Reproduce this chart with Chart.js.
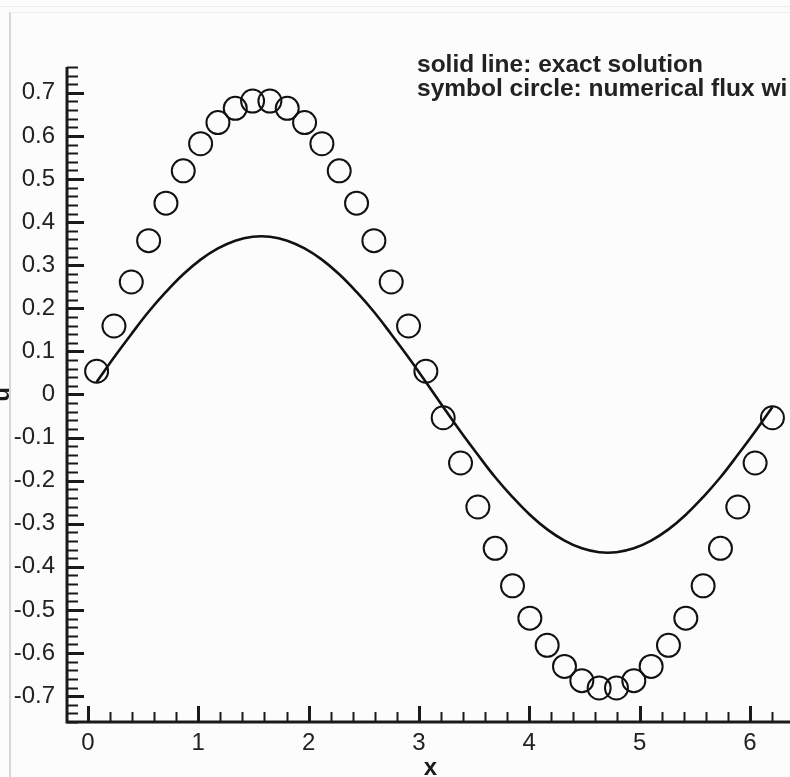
<!DOCTYPE html>
<html>
<head>
<meta charset="utf-8">
<script src="https://cdn.jsdelivr.net/npm/chart.js@4/dist/chart.umd.min.js"></script>
<style>
  html, body { margin: 0; padding: 0; background: #fcfcfc; overflow: hidden; }
  body { width: 790px; height: 777px; position: relative; }
  #wrap { position: absolute; left: -10px; top: 0; width: 820px; height: 780px; }
  .rule-top { position: absolute; left: 0; top: 6px; width: 790px; border-top: 1px solid #ececec; }
  .frame { position: absolute; left: 9px; top: 12px; width: 790px; height: 770px;
           border-top: 1px solid #f0f0f0; border-left: 2px solid #d6d6d6; }
  #note { position: absolute; left: 417px; top: 52px; font: bold 24.5px "Liberation Sans", Arial, sans-serif;
          line-height: 24px; color: #222; white-space: nowrap; }
</style>
</head>
<body>
<div class="rule-top"></div>
<div class="frame"></div>
<div id="wrap"><canvas id="uChart" width="820" height="780"></canvas></div>
<div id="note">solid line: exact solution<br>symbol circle: numerical flux wi</div>
<script>
// cell centres
const xValues = [0.0785, 0.2356, 0.3927, 0.5498, 0.7069, 0.8639, 1.0210, 1.1781, 1.3352, 1.4923,
                 1.6493, 1.8064, 1.9635, 2.1206, 2.2777, 2.4347, 2.5918, 2.7489, 2.9060, 3.0631,
                 3.2201, 3.3772, 3.5343, 3.6914, 3.8485, 4.0055, 4.1626, 4.3197, 4.4768, 4.6339,
                 4.7909, 4.9480, 5.1051, 5.2622, 5.4193, 5.5763, 5.7334, 5.8905, 6.0476, 6.2046];

// exact solution (solid line)
const uExact = [0.029, 0.086, 0.140, 0.192, 0.238, 0.279, 0.313, 0.339, 0.357, 0.366,
                0.366, 0.357, 0.339, 0.313, 0.279, 0.238, 0.192, 0.140, 0.086, 0.029,
                -0.029, -0.086, -0.140, -0.192, -0.238, -0.279, -0.313, -0.339, -0.357, -0.366,
                -0.366, -0.357, -0.339, -0.313, -0.279, -0.238, -0.192, -0.140, -0.086, -0.029];

// numerical solution (circles)
const uNumerical = [0.054, 0.159, 0.261, 0.357, 0.444, 0.519, 0.582, 0.631, 0.664, 0.681,
                    0.681, 0.664, 0.631, 0.582, 0.519, 0.444, 0.357, 0.261, 0.159, 0.054,
                    -0.054, -0.159, -0.261, -0.357, -0.444, -0.519, -0.582, -0.631, -0.664, -0.681,
                    -0.681, -0.664, -0.631, -0.582, -0.519, -0.444, -0.357, -0.261, -0.159, -0.054];

const xTickLabels = ['0', '1', '2', '3', '4', '5', '6'];
const yTickLabels = ['-0.7', '-0.6', '-0.5', '-0.4', '-0.3', '-0.2', '-0.1', '0',
                     '0.1', '0.2', '0.3', '0.4', '0.5', '0.6', '0.7'];

const FONT = '"Liberation Sans", Arial, sans-serif';

// axis lines with major/minor ticks pointing into the plot
const frameAxes = {
  id: 'frameAxes',
  afterDatasetsDraw(chart) {
    const { ctx, chartArea, scales: { x, y } } = chart;
    ctx.save();
    ctx.strokeStyle = '#1a1a1a';
    ctx.lineCap = 'butt';

    for (let v = -0.76; v <= 0.7601; v += 0.02) {
      const py = Math.round(y.getPixelForValue(v)) + 0.5;
      const major = Math.abs(v * 10 - Math.round(v * 10)) < 1e-6;
      ctx.lineWidth = major ? 3 : 2;
      ctx.beginPath();
      ctx.moveTo(chartArea.left, py);
      ctx.lineTo(chartArea.left + (major ? 17 : 11), py);
      ctx.stroke();
    }
    for (let v = 0; v <= 6.41; v += 0.2) {
      const px = Math.round(x.getPixelForValue(v)) + 0.5;
      const major = Math.abs(v - Math.round(v)) < 1e-6;
      ctx.lineWidth = major ? 3 : 2;
      ctx.beginPath();
      ctx.moveTo(px, chartArea.bottom);
      ctx.lineTo(px, chartArea.bottom - (major ? 16 : 10));
      ctx.stroke();
    }

    ctx.lineWidth = 3;
    ctx.beginPath();
    ctx.moveTo(chartArea.left, chartArea.top);
    ctx.lineTo(chartArea.left, chartArea.bottom);
    ctx.lineTo(chartArea.right, chartArea.bottom);
    ctx.stroke();
    ctx.restore();
  }
};

new Chart(document.getElementById('uChart'), {
  type: 'scatter',
  data: {
    datasets: [
      {
        label: 'exact',
        data: xValues.map((x, i) => ({ x: x, y: uExact[i] })),
        showLine: true,
        borderColor: '#111',
        borderWidth: 2.6,
        pointRadius: 0,
        tension: 0.4
      },
      {
        label: 'numerical',
        data: xValues.map((x, i) => ({ x: x, y: uNumerical[i] })),
        showLine: false,
        pointStyle: 'circle',
        pointRadius: 11.5,
        pointBorderWidth: 2,
        pointBorderColor: '#111',
        pointBackgroundColor: 'rgba(0,0,0,0)'
      }
    ]
  },
  options: {
    responsive: false,
    animation: false,
    layout: { padding: { top: 67, right: 16, bottom: 0, left: 0 } },
    plugins: { legend: { display: false }, tooltip: { enabled: false } },
    scales: {
      x: {
        type: 'linear',
        min: -0.19,
        max: 6.4,
        afterBuildTicks: s => { s.ticks = xTickLabels.map(t => ({ value: parseFloat(t) })); },
        afterFit: s => { s.height = 58; },
        grid: { display: false, drawTicks: false },
        border: { display: false },
        ticks: {
          padding: 7,
          color: '#222',
          font: { family: FONT, size: 24 },
          maxRotation: 0,
          callback: v => xTickLabels.find(t => parseFloat(t) === v)
        },
        title: {
          display: true,
          text: 'x',
          color: '#1a1a1a',
          font: { family: FONT, size: 24, weight: 'bold', lineHeight: 1 },
          padding: 0
        }
      },
      y: {
        type: 'linear',
        min: -0.76,
        max: 0.76,
        afterBuildTicks: s => { s.ticks = yTickLabels.map(t => ({ value: parseFloat(t) })); },
        afterFit: s => { s.width = 77; },
        grid: { display: false, drawTicks: false },
        border: { display: false },
        ticks: {
          padding: 12,
          color: '#222',
          font: { family: FONT, size: 24 },
          callback: v => yTickLabels.find(t => Math.abs(parseFloat(t) - v) < 1e-9)
        },
        title: {
          display: true,
          text: 'u',
          color: '#1a1a1a',
          font: { family: FONT, size: 24, weight: 'bold', lineHeight: 1 },
          padding: 0
        }
      }
    }
  },
  plugins: [frameAxes]
});
</script>
</body>
</html>
